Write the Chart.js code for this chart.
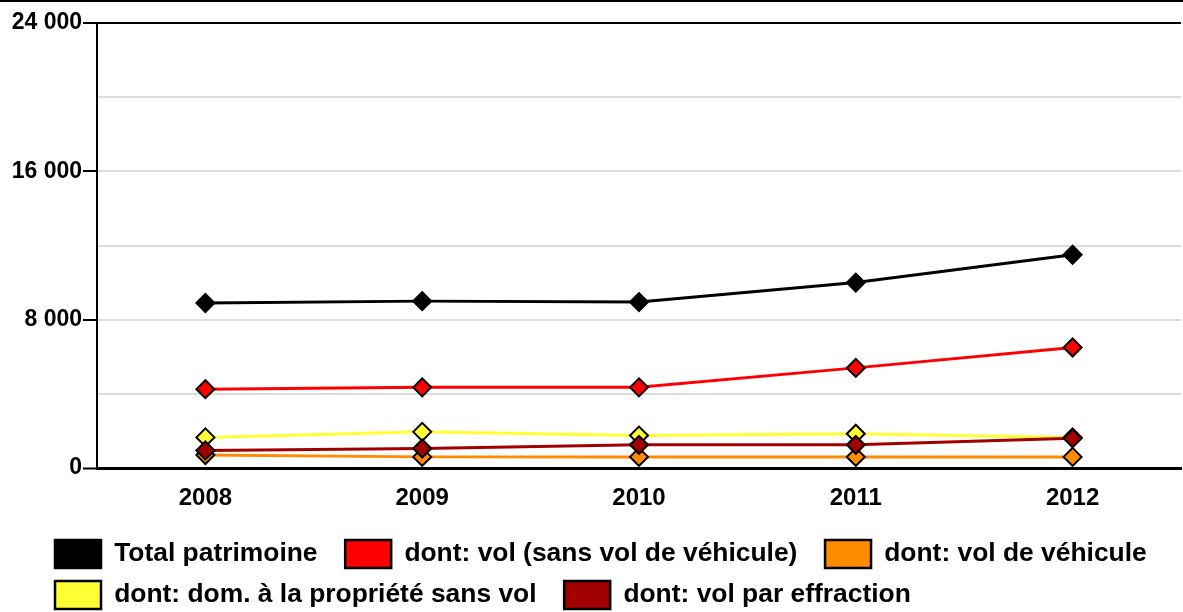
<!DOCTYPE html>
<html lang="fr">
<head>
<meta charset="utf-8">
<title>Atteintes aux biens 2008-2012</title>
<script src="https://cdn.jsdelivr.net/npm/chart.js@4/dist/chart.umd.min.js"></script>
<style>
    html, body { margin: 0; padding: 0; background: #fff; overflow: hidden; }
    #wrap { width: 1192px; height: 617px; border-top: 2px solid #000; }
</style>
</head>
<body>
<div id="wrap"><canvas id="chartPatrimoine" width="1192" height="617"></canvas></div>
<script>
// données
const annees = ['2008', '2009', '2010', '2011', '2012'];
const totalPatrimoine = [8900, 9000, 8950, 10000, 11500];
const volSansVehicule = [4250, 4350, 4350, 5400, 6500];
const volVehicule = [700, 600, 600, 600, 600];
const domProprieteSansVol = [1650, 1950, 1750, 1850, 1650];
const volEffraction = [950, 1050, 1250, 1250, 1600];
const ticksY = [0, 8000, 16000, 24000];

const policeGras = { family: 'Liberation Sans, Arial, sans-serif', weight: 'bold' };

// format "24 000"
const formatNombre = (v) => String(v).replace(/\B(?=(\d{3})+(?!\d))/g, ' ');

const serie = (label, data, couleur, ordre) => ({
    label: label,
    data: data,
    borderColor: couleur,
    backgroundColor: couleur,
    borderWidth: 3,
    tension: 0,
    pointStyle: 'rectRot',
    pointRadius: 9,
    pointHoverRadius: 9,
    pointBackgroundColor: couleur,
    pointBorderColor: '#000',
    pointBorderWidth: 2,
    order: ordre
});

// l'axe Y garde sa largeur, mais ses étiquettes peuvent déborder à gauche
const etiquettesLarges = {
    id: 'etiquettesLarges',
    afterLayout: (chart) => { chart.scales.y.left = 0; }
};

const ctx = document.getElementById('chartPatrimoine').getContext('2d');

const chartPatrimoine = new Chart(ctx, {
    type: 'line',
    data: {
        labels: annees,
        datasets: [
            serie('Total patrimoine', totalPatrimoine, '#000000', 0),
            serie('dont: vol (sans vol de véhicule)', volSansVehicule, '#ff0000', 1),
            serie('dont: vol de véhicule', volVehicule, '#ff8c00', 4),
            serie('dont: dom. à la propriété sans vol', domProprieteSansVol, '#ffff33', 3),
            serie('dont: vol par effraction', volEffraction, '#a00000', 2)
        ]
    },
    plugins: [etiquettesLarges],
    options: {
        responsive: false,
        animation: false,
        devicePixelRatio: 1,
        layout: { padding: { top: 21, left: 42, right: 0, bottom: 0 } },
        plugins: {
            tooltip: { enabled: false },
            legend: {
                position: 'bottom',
                align: 'start',
                labels: {
                    boxWidth: 46,
                    boxHeight: 28,
                    padding: 13,
                    color: '#000',
                    font: { ...policeGras, size: 26.4 },
                    sort: (a, b) => a.datasetIndex - b.datasetIndex,
                    generateLabels: (chart) => chart.data.datasets.map((ds, i) => ({
                        text: ds.label + '  ', // espace entre les items
                        fillStyle: ds.backgroundColor,
                        strokeStyle: '#000',
                        lineWidth: 2.5,
                        hidden: false,
                        datasetIndex: i
                    }))
                }
            }
        },
        scales: {
            x: {
                offset: true,
                afterFit: (scale) => { scale.height = 59; },
                grid: { display: false, drawTicks: false },
                border: { color: '#000', width: 3 },
                ticks: { color: '#000', padding: 16, font: { ...policeGras, size: 24 } }
            },
            y: {
                min: 0,
                max: 24000,
                afterFit: (scale) => { scale.width = 55; },
                afterBuildTicks: (scale) => {
                    // lignes tous les 4000, étiquettes seulement sur ticksY
                    const t = [];
                    for (let v = 0; v <= 24000; v += 4000) t.push({ value: v });
                    scale.ticks = t;
                },
                grid: {
                    color: (c) => (c.tick.value === 0 || c.tick.value === 24000) ? '#000' : '#dcdcdc',
                    lineWidth: (c) => c.tick.value === 0 ? 3 : 2,
                    tickLength: 14,
                    tickWidth: 2,
                    tickColor: (c) => ticksY.includes(c.tick.value) ? '#000' : 'rgba(0,0,0,0)'
                },
                border: { color: '#000', width: 2 },
                ticks: {
                    color: '#000',
                    padding: 1,
                    font: { ...policeGras, size: 23 },
                    callback: (v) => ticksY.includes(v) ? formatNombre(v) : ''
                }
            }
        }
    }
});

console.log(chartPatrimoine)
</script>
</body>
</html>
